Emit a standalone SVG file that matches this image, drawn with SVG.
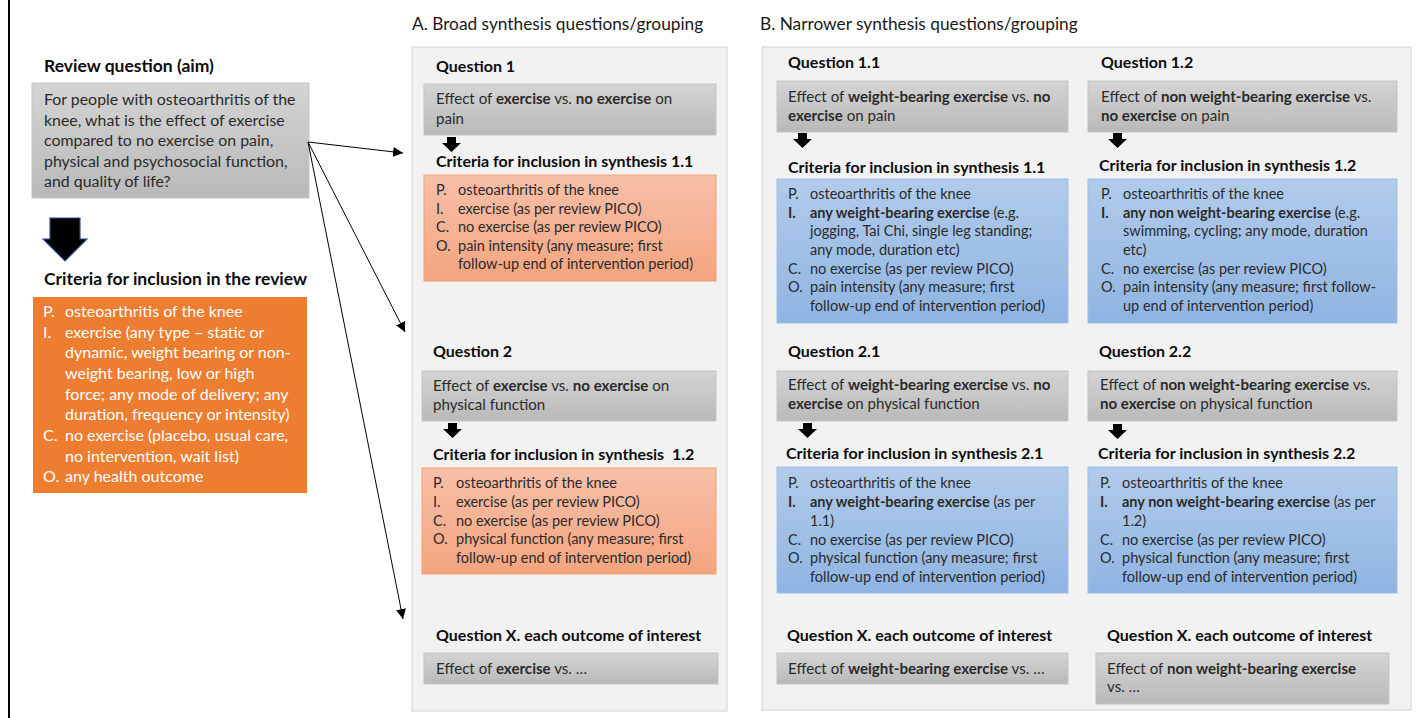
<svg xmlns="http://www.w3.org/2000/svg" xmlns:xlink="http://www.w3.org/1999/xlink" width="1424" height="718" viewBox="0 0 1424 718">
<style>
text{font-family:Lato,"Liberation Sans",sans-serif;fill:#2b2b2b}
.h{font-weight:bold;font-size:16px;fill:#0d0d0d}
.hl{font-weight:bold;font-size:17.5px;fill:#0d0d0d}
.hq{font-weight:bold;font-size:16px;fill:#0d0d0d}
.ti{font-size:17.3px;fill:#1a1a1a}
.q{font-size:15.1px}
.l{font-size:14.5px}
.w{fill:#fff;font-size:16px}
.r{font-size:15.9px}
.b{font-weight:bold}
.panel{fill:#f2f2f2;stroke:#d9d9d9;stroke-width:1.2}
.gray{fill:url(#gg);stroke:#c4c4c4;stroke-width:1}
.sal{fill:url(#sg);stroke:#f4a070;stroke-width:1}
.blue{fill:url(#bg);stroke:#9dc0e6;stroke-width:1}
.conn{stroke:#000;stroke-width:1;fill:none;marker-end:url(#ah)}
</style>
<defs>
<linearGradient id="gg" x1="0" y1="0" x2="0" y2="1"><stop offset="0" stop-color="#d4d4d4"/><stop offset="1" stop-color="#b9b9b9"/></linearGradient>
<linearGradient id="sg" x1="0" y1="0" x2="0" y2="1"><stop offset="0" stop-color="#f7c0a8"/><stop offset="1" stop-color="#f4a47f"/></linearGradient>
<linearGradient id="bg" x1="0" y1="0" x2="0" y2="1"><stop offset="0" stop-color="#b1cbea"/><stop offset="1" stop-color="#8fb4e2"/></linearGradient>
<marker id="ah" viewBox="0 0 10 10" refX="10" refY="5" markerWidth="10" markerHeight="10" markerUnits="userSpaceOnUse" orient="auto"><path d="M0,0 L10,5 L0,10 Z" fill="#000"/></marker>
<path id="sa" d="M5,0 H14 V6 H19 L9.5,15 L0,6 H5 Z" fill="#000"/>
</defs>
<rect width="1424" height="718" fill="#fff"/>
<line x1="9" y1="0" x2="9" y2="718" stroke="#000" stroke-width="2"/>

<g id="review-question">
<text class="hl" x="44" y="72">Review question (aim)</text>
<rect x="32" y="83" width="277" height="115" class="gray"/>
<text class="r" x="44" y="105">For people with osteoarthritis of the</text>
<text class="r" x="44" y="125.5">knee, what is the effect of exercise</text>
<text class="r" x="44" y="146">compared to no exercise on pain,</text>
<text class="r" x="44" y="166.5">physical and psychosocial function,</text>
<text class="r" x="44" y="187">and quality of life?</text>
</g>

<g id="big-arrow">
<path d="M50,218 H80 V239 H87 L65,261 L43,239 H50 Z" fill="#000" stroke="#2f4f8f" stroke-width="1.2"/>
</g>

<g id="review-criteria">
<text class="hl" x="44" y="285">Criteria for inclusion in the review</text>
<rect x="33" y="297" width="274" height="196" fill="#ed7d31"/>
<text class="w" x="43" y="317">P.</text><text class="w" x="65" y="317">osteoarthritis of the knee</text>
<text class="w" x="43" y="338">I.</text><text class="w" x="65" y="338">exercise (any type – static or</text>
<text class="w" x="65" y="358">dynamic, weight bearing or non-</text>
<text class="w" x="65" y="379">weight bearing, low or high</text>
<text class="w" x="65" y="399.5">force; any mode of delivery; any</text>
<text class="w" x="65" y="420">duration, frequency or intensity)</text>
<text class="w" x="43" y="441">C.</text><text class="w" x="65" y="441">no exercise (placebo, usual care,</text>
<text class="w" x="65" y="461.5">no intervention, wait list)</text>
<text class="w" x="43" y="482">O.</text><text class="w" x="65" y="482">any health outcome</text>
</g>

<g id="panel-a">
<text class="ti" x="412" y="30">A. Broad synthesis questions/grouping</text>
<rect x="412" y="47" width="315" height="664" class="panel"/>
</g>

<g id="a-q1">
<text class="h" x="436" y="72">Question 1</text>
<rect x="424" y="84" width="292" height="51" class="gray"/>
<text class="q" x="436" y="104"><tspan>Effect of </tspan><tspan class="b">exercise</tspan><tspan> vs. </tspan><tspan class="b">no exercise</tspan><tspan> on</tspan></text>
<text class="q" x="436" y="123.5">pain</text>
<use xlink:href="#sa" x="442" y="137"/>
<text class="hq" x="436" y="167">Criteria for inclusion in synthesis 1.1</text>
<rect x="424" y="175" width="292" height="106" class="sal"/>
<text class="l" x="436" y="195">P.</text><text class="l" x="458" y="195">osteoarthritis of the knee</text>
<text class="l" x="436" y="213.5">I.</text><text class="l" x="458" y="213.5">exercise (as per review PICO)</text>
<text class="l" x="436" y="232.3">C.</text><text class="l" x="458" y="232.3">no exercise (as per review PICO)</text>
<text class="l" x="436" y="250.7">O.</text><text class="l" x="458" y="250.7">pain intensity (any measure; first</text>
<text class="l" x="458" y="269.3">follow-up end of intervention period)</text>
</g>

<g id="a-q2">
<text class="h" x="433" y="357">Question 2</text>
<rect x="422" y="371" width="294" height="50" class="gray"/>
<text class="q" x="433" y="390.5"><tspan>Effect of </tspan><tspan class="b">exercise</tspan><tspan> vs. </tspan><tspan class="b">no exercise</tspan><tspan> on</tspan></text>
<text class="q" x="433" y="410">physical function</text>
<use xlink:href="#sa" x="443" y="423"/>
<text class="hq" x="433" y="460" xml:space="preserve">Criteria for inclusion in synthesis  1.2</text>
<rect x="422" y="468" width="294" height="106" class="sal"/>
<text class="l" x="433" y="487.7">P.</text><text class="l" x="456" y="487.7">osteoarthritis of the knee</text>
<text class="l" x="433" y="506.7">I.</text><text class="l" x="456" y="506.7">exercise (as per review PICO)</text>
<text class="l" x="433" y="525.7">C.</text><text class="l" x="456" y="525.7">no exercise (as per review PICO)</text>
<text class="l" x="433" y="544">O.</text><text class="l" x="456" y="544">physical function (any measure; first</text>
<text class="l" x="456" y="562.7">follow-up end of intervention period)</text>
</g>

<g id="a-qx">
<text class="h" x="436" y="640.5">Question X. each outcome of interest</text>
<rect x="424" y="653" width="294" height="31" class="gray"/>
<text class="q" x="436" y="674"><tspan>Effect of </tspan><tspan class="b">exercise</tspan><tspan> vs. …</tspan></text>
</g>

<g id="panel-b">
<text class="ti" x="760" y="30">B. Narrower synthesis questions/grouping</text>
<rect x="762" y="47" width="649" height="663" class="panel"/>
</g>

<g id="b-q11">
<text class="h" x="788" y="68.3">Question 1.1</text>
<rect x="777" y="81" width="291" height="51" class="gray"/>
<text class="q" x="788" y="101.7"><tspan>Effect of </tspan><tspan class="b">weight-bearing exercise</tspan><tspan> vs. </tspan><tspan class="b">no</tspan></text>
<text class="q" x="788" y="120.7"><tspan class="b">exercise</tspan><tspan> on pain</tspan></text>
<use xlink:href="#sa" x="793" y="133"/>
<text class="hq" x="788" y="173.3">Criteria for inclusion in synthesis 1.1</text>
<rect x="777" y="179" width="291" height="144" class="blue"/>
<text class="l" x="788" y="199">P.</text><text class="l" x="810" y="199">osteoarthritis of the knee</text>
<text class="l b" x="788" y="217.7">I.</text><text class="l" x="810" y="217.7"><tspan class="b">any weight-bearing exercise</tspan><tspan> (e.g.</tspan></text>
<text class="l" x="810" y="236">jogging, Tai Chi, single leg standing;</text>
<text class="l" x="810" y="255">any mode, duration etc)</text>
<text class="l" x="788" y="274">C.</text><text class="l" x="810" y="274">no exercise (as per review PICO)</text>
<text class="l" x="788" y="292.3">O.</text><text class="l" x="810" y="292.3">pain intensity (any measure; first</text>
<text class="l" x="810" y="311">follow-up end of intervention period)</text>
</g>

<g id="b-q12">
<text class="h" x="1101" y="68.3">Question 1.2</text>
<rect x="1088" y="81" width="309" height="51" class="gray"/>
<text class="q" x="1101" y="101.7"><tspan>Effect of </tspan><tspan class="b">non weight-bearing exercise</tspan><tspan> vs.</tspan></text>
<text class="q" x="1101" y="120.7"><tspan class="b">no exercise</tspan><tspan> on pain</tspan></text>
<use xlink:href="#sa" x="1108" y="133"/>
<text class="hq" x="1099" y="171">Criteria for inclusion in synthesis 1.2</text>
<rect x="1088" y="179" width="309" height="144" class="blue"/>
<text class="l" x="1101" y="199">P.</text><text class="l" x="1123" y="199">osteoarthritis of the knee</text>
<text class="l b" x="1101" y="217.7">I.</text><text class="l" x="1123" y="217.7"><tspan class="b">any non weight-bearing exercise</tspan><tspan> (e.g.</tspan></text>
<text class="l" x="1123" y="236">swimming, cycling; any mode, duration</text>
<text class="l" x="1123" y="255">etc)</text>
<text class="l" x="1101" y="274">C.</text><text class="l" x="1123" y="274">no exercise (as per review PICO)</text>
<text class="l" x="1101" y="292.3">O.</text><text class="l" x="1123" y="292.3">pain intensity (any measure; first follow-</text>
<text class="l" x="1123" y="311">up end of intervention period)</text>
</g>

<g id="b-q21">
<text class="h" x="788" y="357.3">Question 2.1</text>
<rect x="777" y="371" width="291" height="50" class="gray"/>
<text class="q" x="788" y="390"><tspan>Effect of </tspan><tspan class="b">weight-bearing exercise</tspan><tspan> vs. </tspan><tspan class="b">no</tspan></text>
<text class="q" x="788" y="409.3"><tspan class="b">exercise</tspan><tspan> on physical function</tspan></text>
<use xlink:href="#sa" x="798" y="423"/>
<text class="hq" x="786" y="459">Criteria for inclusion in synthesis 2.1</text>
<rect x="777" y="467" width="291" height="126" class="blue"/>
<text class="l" x="788" y="487.7">P.</text><text class="l" x="810" y="487.7">osteoarthritis of the knee</text>
<text class="l b" x="788" y="506.7">I.</text><text class="l" x="810" y="506.7"><tspan class="b">any weight-bearing exercise</tspan><tspan> (as per</tspan></text>
<text class="l" x="810" y="526">1.1)</text>
<text class="l" x="788" y="544.5">C.</text><text class="l" x="810" y="544.5">no exercise (as per review PICO)</text>
<text class="l" x="788" y="563">O.</text><text class="l" x="810" y="563">physical function (any measure; first</text>
<text class="l" x="810" y="582">follow-up end of intervention period)</text>
</g>

<g id="b-q22">
<text class="h" x="1099" y="357.3">Question 2.2</text>
<rect x="1088" y="371" width="309" height="50" class="gray"/>
<text class="q" x="1100" y="390"><tspan>Effect of </tspan><tspan class="b">non weight-bearing exercise</tspan><tspan> vs.</tspan></text>
<text class="q" x="1100" y="409.3"><tspan class="b">no exercise</tspan><tspan> on physical function</tspan></text>
<use xlink:href="#sa" x="1108" y="424"/>
<text class="hq" x="1098" y="459">Criteria for inclusion in synthesis 2.2</text>
<rect x="1088" y="467" width="309" height="126" class="blue"/>
<text class="l" x="1100" y="487.7">P.</text><text class="l" x="1122" y="487.7">osteoarthritis of the knee</text>
<text class="l b" x="1100" y="506.7">I.</text><text class="l" x="1122" y="506.7"><tspan class="b">any non weight-bearing exercise</tspan><tspan> (as per</tspan></text>
<text class="l" x="1122" y="526">1.2)</text>
<text class="l" x="1100" y="544.5">C.</text><text class="l" x="1122" y="544.5">no exercise (as per review PICO)</text>
<text class="l" x="1100" y="563">O.</text><text class="l" x="1122" y="563">physical function (any measure; first</text>
<text class="l" x="1122" y="582">follow-up end of intervention period)</text>
</g>

<g id="b-qx1">
<text class="h" x="787" y="640.7">Question X. each outcome of interest</text>
<rect x="777" y="653" width="291" height="31" class="gray"/>
<text class="q" x="788" y="673.5"><tspan>Effect of </tspan><tspan class="b">weight-bearing exercise</tspan><tspan> vs. …</tspan></text>
</g>

<g id="b-qx2">
<text class="h" x="1107" y="640.7">Question X. each outcome of interest</text>
<rect x="1096" y="653" width="293" height="51" class="gray"/>
<text class="q" x="1107" y="673.5"><tspan>Effect of </tspan><tspan class="b">non weight-bearing exercise</tspan></text>
<text class="q" x="1107" y="692">vs. …</text>
</g>

<g id="connectors">
<line class="conn" x1="308" y1="142" x2="403" y2="153"/>
<line class="conn" x1="308" y1="142" x2="405" y2="332"/>
<line class="conn" x1="308" y1="142" x2="403" y2="619"/>
</g>
</svg>
